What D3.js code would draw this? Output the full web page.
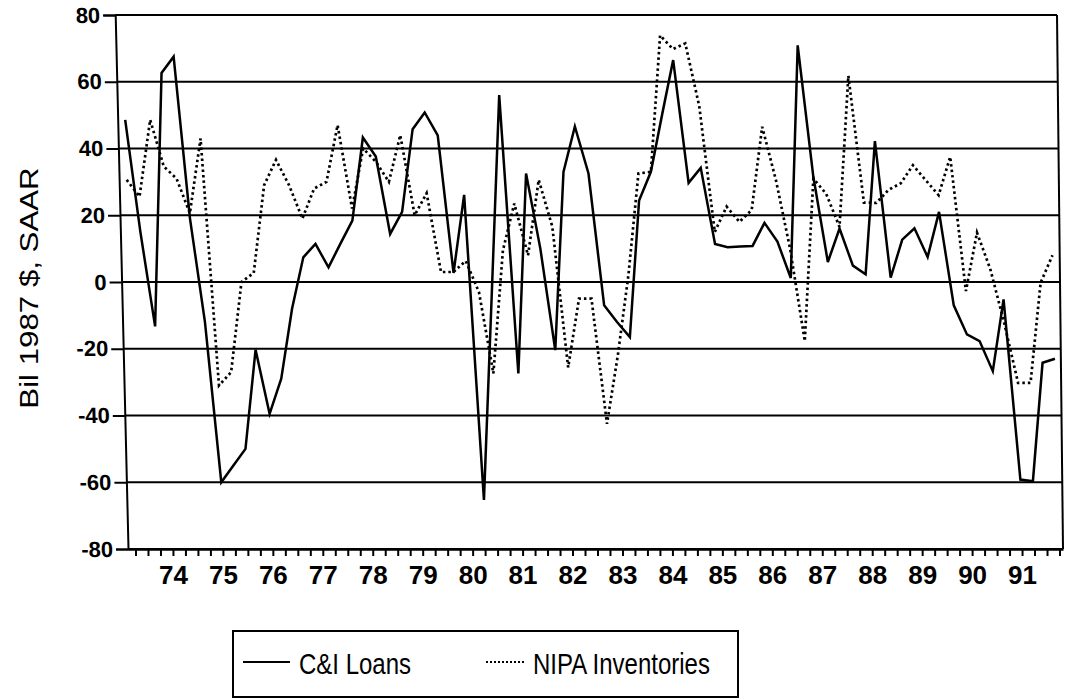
<!DOCTYPE html>
<html>
<head>
<meta charset="utf-8">
<script src="https://cdn.jsdelivr.net/npm/d3@7"></script>
<style>
  body { margin: 0; background: #fff; }
  svg { display: block; }
</style>
</head>
<body>
<script>
// quarterly data, first point 1973 Q2, last 1991 Q4
const firstQuarter = 1973.25;
const cniLoans = [
    48.6, 15, -13.3, 62.6, 67.5, 19, -12, -60, -55, -50,
    -20.3, -39.5, -29, -8, 7.4, 11.4, 4.4, 11.5, 18.4, 43.3,
    37.6, 14.4, 21, 45.8, 50.8, 43.9, 2.7, 26.1, -65.3, -5,
    56, -27.4, 32.5, 10, -20.4, 33, 46.6, 32.5, -7, -12,
    -16.5, 24.4, 33, 50, 66.5, 29.7, 34.2, 11.4, 10.4, 10.6,
    10.8, 17.7, 12.1, 1.2, 70.9, 31.6, 6, 16, 4.9, 2.3,
    42.2, 1.3, 12.7, 16.1, 7.5, 21, -7, -15.7, -17.7, -26.7,
    -5.2, -59.2, -59.7, -24.2, -23
];
const nipaInventories = [
    30.6, 25.6, 48.6, 34.6, 31, 20.6, 43, -31, -27, 0,
    2.7, 29, 36.6, 29, 19, 28, 30, 47, 22, 40,
    36, 30, 44, 20, 26.6, 3, 3, 6.3, -3, -27.4,
    9.5, 23.5, 8, 30.6, 16.6, -25.6, -5, -5, -42.5, -22,
    2, 32.5, 33, 73.9, 69.8, 71.5, 52.7, 15, 22.6, 18,
    21.6, 46.5, 30.5, 10, -17.7, 31, 26.4, 16.5, 61.8, 23.8,
    23.7, 27.6, 29.6, 35, 30.5, 26, 37.5, -2.7, 14.8, 3.8,
    -12.2, -30.2, -30.2, -0.2, 8
];
const yTicks = [-80, -60, -40, -20, 0, 20, 40, 60, 80];
const yearTicks = [1974, 1975, 1976, 1977, 1978, 1979, 1980, 1981, 1982,
                   1983, 1984, 1985, 1986, 1987, 1988, 1989, 1990, 1991];
const seriesNames = ["C&I Loans", "NIPA Inventories"];

function init() {
    "use strict";

    const w = 1067;
    const h = 700;
    const left = 128;
    const right = 1063;
    const top = 15;
    const bottom = 549;
    const lean = 0.024;   // the original page leans a little to the left at the top
    const font = "'Liberation Sans', Arial, sans-serif";

    const svg = d3.select("body")
    .append("svg")
        .attr("width", w)
        .attr("height", h);

    const xScale = d3.scaleLinear()
                    .domain([1973.1, 1991.82])
                    .range([left, right]);
    const yScale = d3.scaleLinear()
                    .domain([-80, 80])
                    .range([bottom, top]);

    const qx = (d, i) => xScale(firstQuarter + i * 0.25);
    const leftAt = y => left - (bottom - y) * lean;
    const rightAt = y => 1057 + (right - 1057) * (y - top) / (bottom - top);

    // gridlines
    svg.append("g")
        .selectAll("line")
        .data(yTicks)
        .enter()
        .append("line")
            .attr("x1", d => leftAt(yScale(d)))
            .attr("x2", d => rightAt(yScale(d)))
            .attr("y1", d => yScale(d))
            .attr("y2", d => yScale(d))
            .attr("stroke", "#000")
            .attr("stroke-width", 2);

    // right border
    svg.append("line")
        .attr("x1", rightAt(top)).attr("x2", rightAt(bottom))
        .attr("y1", top).attr("y2", bottom)
        .attr("stroke", "#000")
        .attr("stroke-width", 2);

    // skewed group for the y axis and the two series
    const plot = svg.append("g")
        .attr("transform", "translate(0," + bottom + ") skewX(" + (Math.atan(lean) * 180 / Math.PI) + ") translate(0," + (-bottom) + ")");

    const yAxis = d3.axisLeft(yScale).tickValues(yTicks).tickSize(12).tickPadding(3).tickFormat(d => String(d));
    const gy = plot.append("g")
        .attr("transform", "translate(" + left + ",0)")
        .call(yAxis);
    gy.select(".domain").attr("stroke-width", 2);
    gy.selectAll(".tick line").attr("stroke-width", 2);
    gy.selectAll("text")
        .style("font-family", font)
        .style("font-size", "22px")
        .style("font-weight", "bold")
        .attr("fill", "#000");

    const line = d3.line()
                   .x(qx)
                   .y(d => yScale(d));

    plot.append("path")
        .datum(cniLoans)
        .attr("d", line)
        .attr("fill", "none")
        .attr("stroke", "#000")
        .attr("stroke-width", 2.5)
        .attr("stroke-linejoin", "miter");

    plot.append("path")
        .datum(nipaInventories)
        .attr("d", line)
        .attr("fill", "none")
        .attr("stroke", "#000")
        .attr("stroke-width", 2.7)
        .attr("stroke-dasharray", "2.5,3");

    // x axis, one tick per quarter
    const quarterTicks = d3.range(firstQuarter, 1992, 0.25);
    const xAxis = d3.axisBottom(xScale)
                    .tickValues(quarterTicks)
                    .tickSize(7)
                    .tickSizeOuter(0)
                    .tickFormat(d => Number.isInteger(d) && yearTicks.includes(d) ? String(d).slice(2) : "");
    const gx = svg.append("g")
        .attr("transform", "translate(0," + bottom + ")")
        .call(xAxis);
    gx.select(".domain").attr("stroke-width", 2.5);
    gx.selectAll(".tick line").attr("stroke-width", 2);
    gx.selectAll("text")
        .attr("dy", "0.95em")
        .style("font-family", font)
        .style("font-size", "26px")
        .style("font-weight", "bold")
        .attr("fill", "#000");

    // y title
    svg.append("text")
        .attr("transform", "translate(38," + ((top + bottom) / 2 + 6) + ") scale(1,1.25) rotate(-90)")
        .attr("text-anchor", "middle")
        .style("font-family", font)
        .style("font-size", "25px")
        .text("Bil 1987 $, SAAR");

    // legend
    const legend = svg.append("g");
    legend.append("rect")
        .attr("x", 233)
        .attr("y", 631)
        .attr("width", 505)
        .attr("height", 66)
        .attr("fill", "none")
        .attr("stroke", "#000")
        .attr("stroke-width", 2);
    legend.append("line")
        .attr("x1", 243).attr("x2", 290)
        .attr("y1", 662).attr("y2", 662)
        .attr("stroke", "#000")
        .attr("stroke-width", 2);
    legend.append("line")
        .attr("x1", 486).attr("x2", 526)
        .attr("y1", 662).attr("y2", 662)
        .attr("stroke", "#000")
        .attr("stroke-width", 2)
        .attr("stroke-dasharray", "2,2");
    legend.append("text")
        .attr("transform", "translate(299,674) scale(1,1.25)")
        .style("font-family", font)
        .style("font-size", "24px")
        .text(seriesNames[0]);
    legend.append("text")
        .attr("transform", "translate(533,674) scale(1,1.25)")
        .style("font-family", font)
        .style("font-size", "24px")
        .text(seriesNames[1]);
}

window.onload = init;
</script>
</body>
</html>
